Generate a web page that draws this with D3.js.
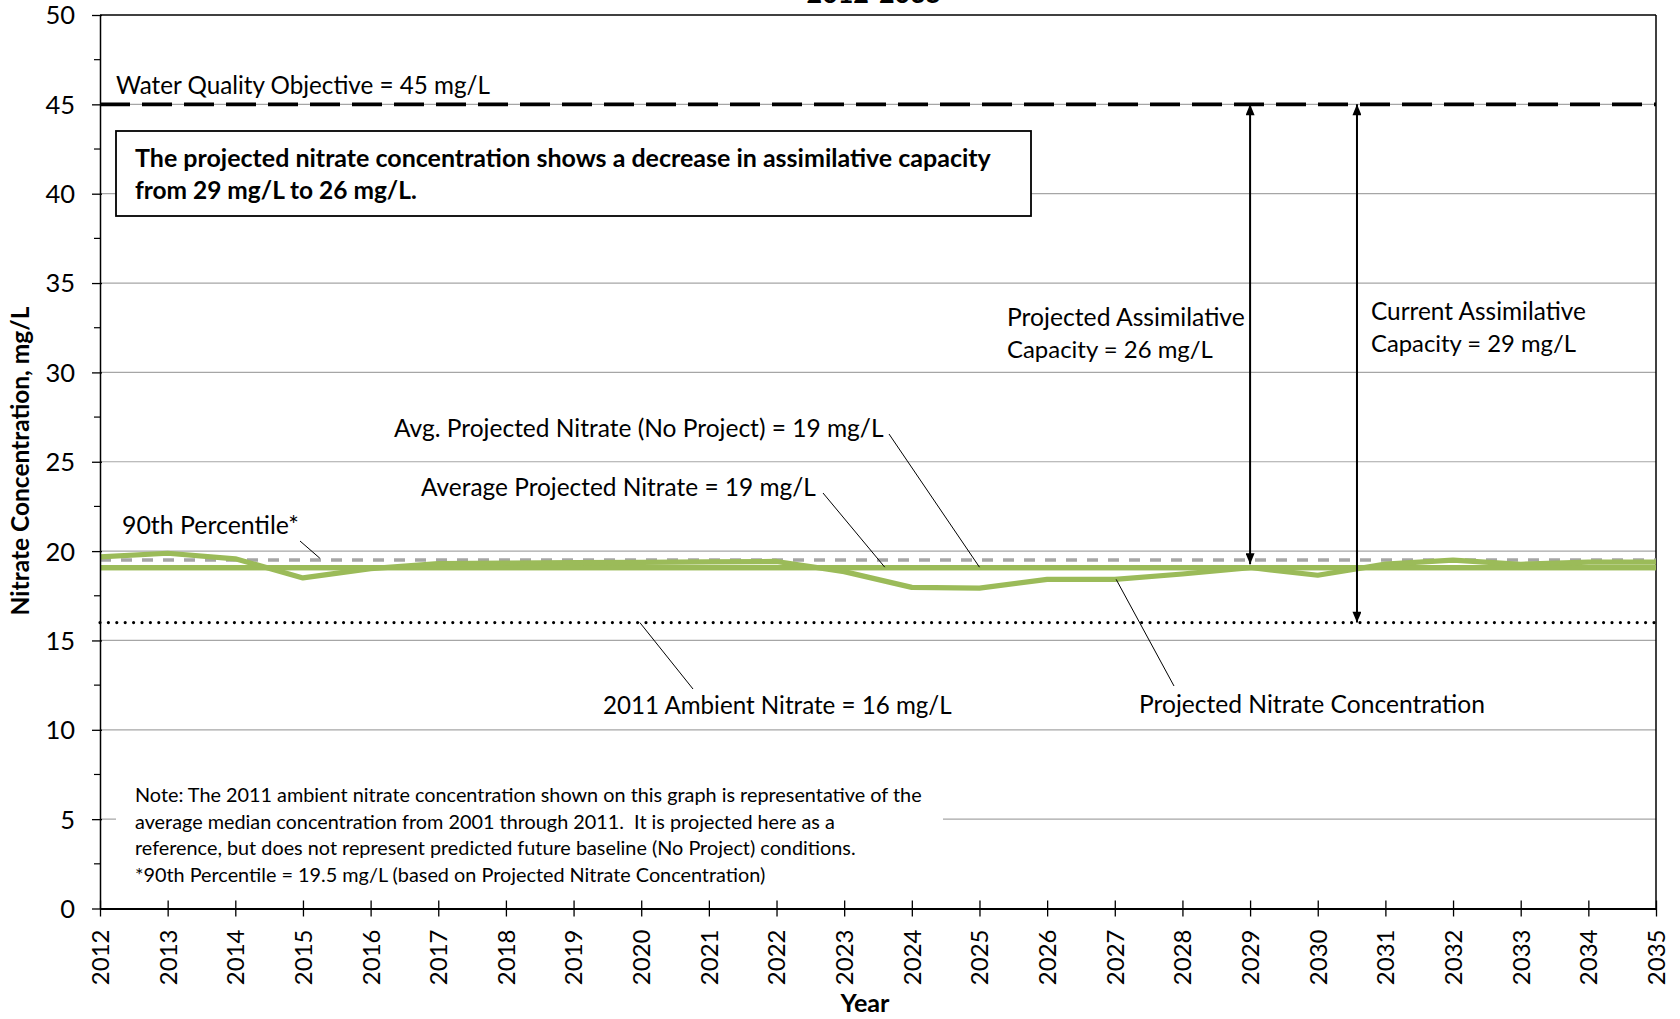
<!DOCTYPE html>
<html><head><meta charset="utf-8">
<script src="https://cdn.jsdelivr.net/npm/d3@7"></script>
<style>
body{margin:0;background:#fff}
svg{display:block}
text{font-family:Lato,"Open Sans",sans-serif;fill:#000;white-space:pre}
</style>
</head><body>
<svg id="c" width="1680" height="1019"></svg>
<script>
// ---------------- data ----------------
const years = [2012,2013,2014,2015,2016,2017,2018,2019,2020,2021,2022,2023,2024,2025,2026,2027,2028,2029,2030,2031,2032,2033,2034,2035];
const projected = [19.68,19.88,19.57,18.5,19.02,19.3,19.33,19.35,19.37,19.4,19.42,18.85,17.97,17.93,18.42,18.42,18.72,19.08,18.65,19.27,19.5,19.26,19.38,19.38];
const avgProjected = 19.07;          // Average Projected Nitrate
const avgNoProject = 19.07;          // Avg. Projected Nitrate (No Project)
const percentile90 = 19.5;
const ambient2011 = 16;
const waterQualityObjective = 45;
const yTicks = [0,5,10,15,20,25,30,35,40,45,50];
const yMinorTicks = [2.5,7.5,12.5,17.5,22.5,27.5,32.5,37.5,42.5,47.5];
const gridValues = [5,10,15,20,25,30,35,40,45];
// capacity arrows: [year, top value, bottom value]
const arrowYears = [2029, 2030.58];
const arrowTop = [45, 45];
const arrowBottom = [19.27, 16];

// ---------------- setup ----------------
const svg = d3.select("#c");
const x = d3.scaleLinear().domain([2012,2035]).range([100,1656]);
const y = d3.scaleLinear().domain([0,50]).range([908.5,15]);
const X0 = x(2012), X1 = x(2035);

function fit(sel, w){
  const l = sel.node().getComputedTextLength();
  const fs = parseFloat(sel.attr("font-size"));
  sel.attr("font-size", fs*w/l);
  return fs*w/l;
}

const defs = svg.append("defs");
defs.append("marker").attr("id","ah").attr("viewBox","0 0 12 10")
  .attr("refX",12).attr("refY",5).attr("markerWidth",12).attr("markerHeight",9)
  .attr("markerUnits","userSpaceOnUse").attr("orient","auto-start-reverse")
  .append("path").attr("d","M0,0L12,5L0,10z").attr("fill","#000");

// gridlines
svg.append("g").selectAll("line").data(gridValues).join("line")
  .attr("x1",X0).attr("x2",X1).attr("y1",d=>y(d)).attr("y2",d=>y(d))
  .attr("stroke","#a6a6a6").attr("stroke-width",1.2);

// plot border (top & right)
svg.append("line").attr("x1",X0).attr("x2",X1).attr("y1",y(50)).attr("y2",y(50)).attr("stroke","#000").attr("stroke-width",1.5);
svg.append("line").attr("x1",X1).attr("x2",X1).attr("y1",y(50)).attr("y2",y(0)).attr("stroke","#000").attr("stroke-width",1.5);

// white box behind note
svg.append("rect").attr("x",116).attr("y",778).attr("width",827).attr("height",112).attr("fill","#fff");
// key message box
svg.append("rect").attr("x",116).attr("y",131).attr("width",915).attr("height",85)
  .attr("fill","#fff").attr("stroke","#000").attr("stroke-width",1.8);

// reference lines
function hline(v, stroke, w, dash, cap){
  return svg.append("line").attr("x1",X0).attr("x2",X1).attr("y1",y(v)).attr("y2",y(v))
    .attr("stroke",stroke).attr("stroke-width",w).attr("stroke-dasharray",dash||null)
    .attr("stroke-linecap",cap||"butt");
}
hline(ambient2011,"#000",3.2,"0,8.4","round");
hline(percentile90,"#a6a6a6",3.4,"11,10");
hline(avgNoProject,"#9bbb59",5.2);
hline(avgProjected,"#9bbb59",5.2);

// projected series
svg.append("path").datum(years.map((yr,i)=>[yr,projected[i]]))
  .attr("fill","none").attr("stroke","#9bbb59").attr("stroke-width",5.2)
  .attr("stroke-linejoin","round")
  .attr("d",d3.line().x(d=>x(d[0])).y(d=>y(d[1])));

// WQO dashed line
hline(waterQualityObjective,"#000",3.6,"30,12");

// axes
const yAxis = svg.append("g").attr("transform",`translate(${X0},0)`)
  .call(d3.axisLeft(y).tickValues(yTicks).tickSize(8).tickSizeOuter(0).tickPadding(17));
yAxis.select(".domain").attr("stroke","#000").attr("stroke-width",1.5);
yAxis.selectAll(".tick line").attr("stroke","#000").attr("stroke-width",1.3).attr("x2",-8).attr("x1",2);
yAxis.selectAll(".tick text").attr("font-size",25.5).attr("font-family","Lato").attr("fill","#000").attr("dy","0.35em");
svg.append("g").selectAll("line").data(yMinorTicks).join("line")
  .attr("x1",X0-6).attr("x2",X0).attr("y1",d=>y(d)).attr("y2",d=>y(d))
  .attr("stroke","#000").attr("stroke-width",1.2);

const xAxis = svg.append("g").attr("transform",`translate(0,${y(0)})`)
  .call(d3.axisBottom(x).tickValues(years).tickFormat(d3.format("d")).tickSize(8).tickSizeOuter(0));
xAxis.select(".domain").attr("stroke","#000").attr("stroke-width",2);
xAxis.selectAll(".tick line").attr("stroke","#000").attr("stroke-width",1.3).attr("y1",-8).attr("y2",8);
xAxis.selectAll(".tick text").attr("font-size",24).attr("font-family","Lato").attr("fill","#000")
  .attr("transform","rotate(-90)").attr("text-anchor","end").attr("x",-21).attr("y",0).attr("dy","0.35em");

// axis titles
const yt = svg.append("text").attr("transform","translate(23,461) rotate(-90)")
  .attr("text-anchor","middle").attr("dominant-baseline","middle")
  .attr("font-weight","bold").attr("font-size",21).text("Nitrate Concentration, mg/L");
fit(yt,309);
const xt = svg.append("text").attr("x",865).attr("y",1012).attr("text-anchor","middle")
  .attr("font-weight","bold").attr("font-size",22).text("Year");
fit(xt,49);
const tt = svg.append("text").attr("x",874).attr("y",3).attr("text-anchor","middle")
  .attr("font-weight","bold").attr("font-size",24).text("2012-2035");
fit(tt,135);

// capacity arrows
svg.append("g").selectAll("line").data(arrowYears).join("line")
  .attr("x1",d=>x(d)).attr("x2",d=>x(d))
  .attr("y1",(d,i)=>y(arrowTop[i])).attr("y2",(d,i)=>y(arrowBottom[i]))
  .attr("stroke","#000").attr("stroke-width",2)
  .attr("marker-start","url(#ah)").attr("marker-end","url(#ah)");

// leader lines: pixel start -> data point end
const leaders = [
  {px:300, py:541, yr:2015.25, v:19.6},
  {px:823, py:493, yr:2023.6,  v:19.1},
  {px:889, py:434, yr:2025.0,  v:19.1},
  {px:693, py:689, yr:2019.98, v:16},
  {px:1174,py:686, yr:2027.02, v:18.42}
];
svg.append("g").selectAll("line").data(leaders).join("line")
  .attr("x1",d=>d.px).attr("y1",d=>d.py).attr("x2",d=>x(d.yr)).attr("y2",d=>y(d.v))
  .attr("stroke","#000").attr("stroke-width",1);

// annotation texts
const labels = [
  {t:"Water Quality Objective = 45 mg/L", x:116, y:94, w:374},
  {t:"The projected nitrate concentration shows a decrease in assimilative capacity", x:135, y:167, w:856, b:true},
  {t:"from 29 mg/L to 26 mg/L.", x:135, y:199, w:282, b:true},
  {t:"Projected Assimilative", x:1007, y:326, w:238},
  {t:"Capacity = 26 mg/L", x:1007, y:358, w:206},
  {t:"Current Assimilative", x:1371, y:320, w:215},
  {t:"Capacity = 29 mg/L", x:1371, y:352, w:205},
  {t:"Avg. Projected Nitrate (No Project) = 19 mg/L", x:394, y:437, w:490},
  {t:"Average Projected Nitrate = 19 mg/L", x:421, y:496, w:395},
  {t:"90th Percentile*", x:122, y:534, w:177},
  {t:"2011 Ambient Nitrate = 16 mg/L", x:603, y:714, w:349},
  {t:"Projected Nitrate Concentration", x:1139, y:713, w:346}
];
labels.forEach(l=>{
  const s = svg.append("text").attr("x",l.x).attr("y",l.y).attr("font-size",22)
    .attr("font-weight",l.b?"bold":"normal").text(l.t);
  fit(s,l.w);
});

// note
const noteLines = [
  "Note: The 2011 ambient nitrate concentration shown on this graph is representative of the",
  "average median concentration from 2001 through 2011.  It is projected here as a",
  "reference, but does not represent predicted future baseline (No Project) conditions.",
  "*90th Percentile = 19.5 mg/L (based on Projected Nitrate Concentration)"
];
const noteY = [802,829,855,882];
const n0 = svg.append("text").attr("x",135).attr("y",noteY[0]).attr("font-size",18).text(noteLines[0]);
const nfs = fit(n0,787);
noteLines.slice(1).forEach((t,i)=>{
  svg.append("text").attr("x",135).attr("y",noteY[i+1]).attr("font-size",nfs).text(t);
});
</script>
</body></html>
